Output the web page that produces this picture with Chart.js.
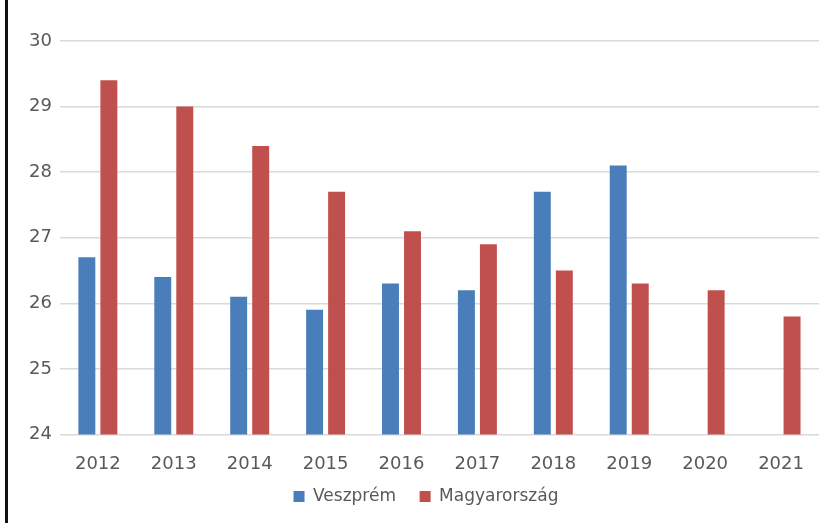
<!DOCTYPE html>
<html>
<head>
<meta charset="utf-8">
<script src="https://cdn.jsdelivr.net/npm/chart.js@4"></script>
<style>
  html, body { margin: 0; padding: 0; background: #fff; }
  #wrap { position: relative; width: 833px; height: 523px; }
  #edge { position: absolute; left: 5px; top: 0; width: 3px; height: 523px; background: #111; }
  canvas { position: absolute; left: 0; top: 0; }
</style>
</head>
<body>
<div id="wrap">
  <canvas id="chart" width="833" height="523"></canvas>
  <div id="edge"></div>
</div>
<script>
// Évek és adatsorok
const years = ["2012", "2013", "2014", "2015", "2016", "2017", "2018", "2019", "2020", "2021"];
const veszprem = [26.7, 26.4, 26.1, 25.9, 26.3, 26.2, 27.7, 28.1, null, null];
const magyarorszag = [29.4, 29.0, 28.4, 27.7, 27.1, 26.9, 26.5, 26.3, 26.2, 25.8];
const yTicks = [24, 25, 26, 27, 28, 29, 30];

const textColor = "#595959";
const font = { family: "DejaVu Sans", size: 18 };

// a jelmagyarázatot kicsit jobbra toljuk, mint az eredetin
const legendShift = {
    id: "legendShift",
    afterLayout(chart) {
        chart.legend.left += 6;
        chart.legend.right += 6;
    },
};

new Chart(document.getElementById("chart").getContext("2d"), {
    type: "bar",
    data: {
        labels: years,
        datasets: [
            {
                label: "Veszprém",
                data: veszprem,
                backgroundColor: "#4a7ebb",
                barPercentage: 0.77,
                categoryPercentage: 0.58,
            },
            {
                label: "Magyarország",
                data: magyarorszag,
                backgroundColor: "#c0504d",
                barPercentage: 0.77,
                categoryPercentage: 0.58,
            },
        ],
    },
    options: {
        responsive: false,
        animation: false,
        layout: { padding: { top: 41, left: 21, right: 14, bottom: 8 } },
        scales: {
            x: {
                grid: { display: false },
                border: { display: false },
                ticks: { color: textColor, font: font, padding: 11 },
            },
            y: {
                min: yTicks[0],
                max: yTicks[yTicks.length - 1],
                afterBuildTicks: (axis) => { axis.ticks = yTicks.map((v) => ({ value: v })); },
                grid: { color: "#d9d9d9", lineWidth: 1.5, drawTicks: false },
                border: { display: false },
                ticks: { color: textColor, font: font, padding: 8 },
            },
        },
        plugins: {
            legend: {
                position: "bottom",
                labels: {
                    color: textColor,
                    font: { family: "DejaVu Sans", size: 17 },
                    boxWidth: 11,
                    boxHeight: 11,
                    padding: 2,
                    // a jelmagyarázat elemei közé nagyobb hézag kell
                    generateLabels: (chart) => {
                        const items = Chart.defaults.plugins.legend.labels.generateLabels(chart);
                        items.forEach((item, i) => {
                            if (i < items.length - 1) item.text += "\u00a0\u00a0\u00a0\u00a0";
                        });
                        return items;
                    },
                },
            },
            tooltip: { enabled: false },
        },
    },
    plugins: [legendShift],
});
</script>
</body>
</html>
